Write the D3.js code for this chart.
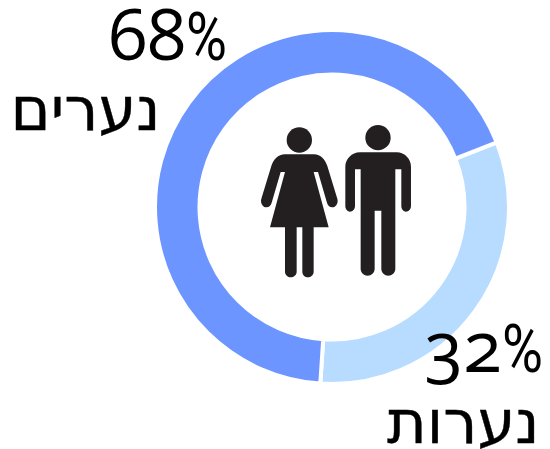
<!DOCTYPE html>
<html><head><meta charset="utf-8">
<script src="https://cdn.jsdelivr.net/npm/d3@7/dist/d3.min.js"></script>
<style>html,body{margin:0;background:#fff}svg{display:block}</style></head>
<body><svg id="c" width="550" height="449"></svg>
<script>
const categories = ["נערות", "נערים"];
const values = [32, 68];
const valueLabels = ["32", "68"];
const colors = ["#b8dcff", "#6c95ff"];

const svg = d3.select("#c");
const cx = 332, cy = 207;
const rot = 68.6 * Math.PI / 180;
const pie = d3.pie().sort(null).startAngle(rot).endAngle(rot + 2 * Math.PI);
const arc = d3.arc().innerRadius(132.5).outerRadius(177);
svg.append("g").attr("transform", `translate(${cx},${cy})`)
  .selectAll("path").data(pie(values)).join("path")
  .attr("d", arc).attr("fill", (d, i) => colors[i])
  .attr("stroke", "#fff").attr("stroke-width", 4);

const pos = [
  { vx: 543, vy: 372, cxp: 539.5, cy: 443 },
  { vx: 227, vy: 60, cxp: 160.5, cy: 130 }
];
categories.forEach((c, i) => {
  const t = svg.append("text").attr("x", pos[i].vx).attr("y", pos[i].vy).attr("text-anchor", "end")
    .attr("font-family", "'Open Sans', sans-serif").attr("font-size", 71).attr("fill", "#000")
    .style("font-variant-numeric", "oldstyle-nums");
  t.append("tspan").text(valueLabels[i]);
  t.append("tspan").attr("font-family", "'Liberation Sans Narrow','Roboto',sans-serif").attr("font-size", 66)
    .attr("textLength", 41).attr("lengthAdjust", "spacingAndGlyphs").text("%");
  svg.append("text").attr("x", pos[i].cxp).attr("y", pos[i].cy).attr("text-anchor", "start")
    .attr("direction", "rtl").attr("font-family", "'DejaVu Sans', sans-serif").attr("font-size", 60.5)
    .attr("fill", "#000").attr("stroke", "#000").attr("stroke-width", 0.4).text(c);
});

const icon = svg.append("g").attr("transform", "translate(240,110) scale(0.3333)").attr("fill", "#231f20");
icon.append("circle").attr("cx", 178).attr("cy", 90).attr("r", 38);
icon.append("circle").attr("cx", 414).attr("cy", 83).attr("r", 38);
icon.append("path").attr("d", "M135 133H222C242 133 256 150 262 168L292 266C296 280 287 292 277 292C268 292 263 285 261 278L234 186H221L266 352H221V485C221 495 212 502 204 502C195 502 187 495 187 485V352H170V485C170 495 161 502 152 502C144 502 135 495 135 485V352H90L135 186H122L95 278C93 285 88 292 79 292C69 292 60 280 64 266L94 168C100 150 114 133 135 133Z");
icon.append("path").attr("d", "M360 127H470C495 127 513 148 513 170V288C513 298 506 305 498 305C491 305 484 298 484 288V178H466V476C466 488 456 497 445 497C434 497 424 488 424 476V302H404V476C404 488 394 497 383 497C372 497 362 488 362 476V178H345V288C345 298 338 305 330 305C323 305 316 298 316 288V170C316 148 335 127 360 127Z");
</script></body></html>
